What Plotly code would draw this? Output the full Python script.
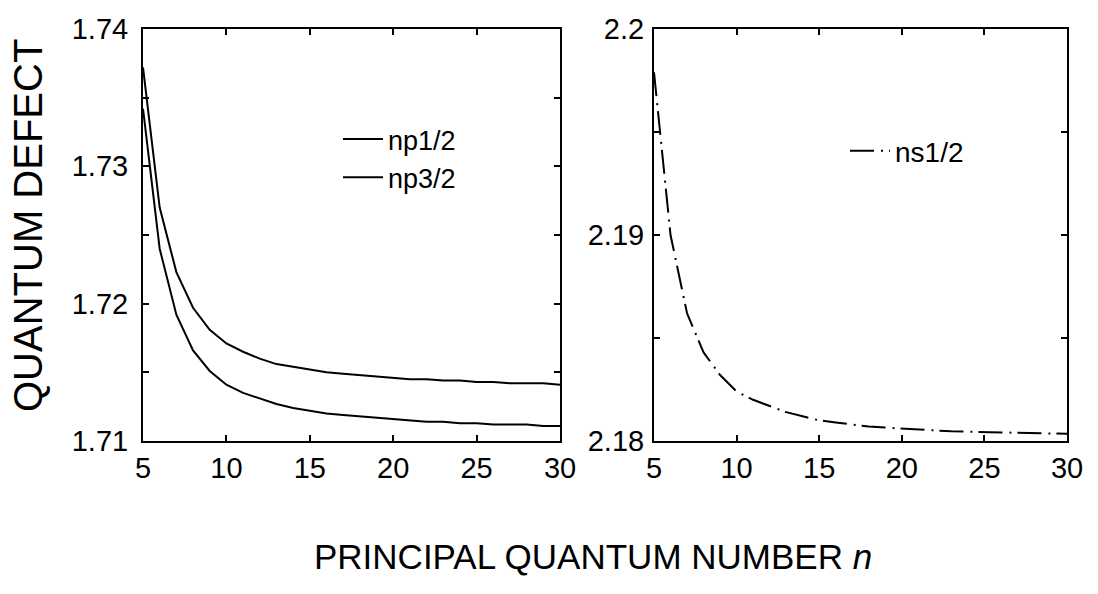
import plotly.graph_objects as go

# Principal quantum number
n = list(range(5, 31))

# Quantum defects
np12 = [1.7372, 1.7270, 1.7223, 1.7197, 1.7181, 1.7171, 1.7165, 1.7160, 1.7156,
        1.7154, 1.7152, 1.7150, 1.7149, 1.7148, 1.7147, 1.7146, 1.7145, 1.7145,
        1.7144, 1.7144, 1.7143, 1.7143, 1.7142, 1.7142, 1.7142, 1.7141]
np32 = [1.7342, 1.7240, 1.7192, 1.7166, 1.7151, 1.7141, 1.7135, 1.7131, 1.7127,
        1.7124, 1.7122, 1.7120, 1.7119, 1.7118, 1.7117, 1.7116, 1.7115, 1.7114,
        1.7114, 1.7113, 1.7113, 1.7112, 1.7112, 1.7112, 1.7111, 1.7111]
ns12 = [2.1979, 2.1900, 2.1862, 2.1843, 2.1832, 2.1824, 2.1820, 2.1817, 2.1814,
        2.1812, 2.1810, 2.1809, 2.1808, 2.1807, 2.18065, 2.1806, 2.18055, 2.1805,
        2.18047, 2.18045, 2.18043, 2.1804, 2.18039, 2.18038, 2.18037, 2.18035]

x_ticks = [5, 10, 15, 20, 25, 30]
x_ticktext = ["5", "10", "15", "20", "25", "30"]
yl_ticks = [1.71, 1.715, 1.72, 1.725, 1.73, 1.735, 1.74]
yl_ticktext = ["1.71", "", "1.72", "", "1.73", "", "1.74"]
yr_ticks = [2.18, 2.185, 2.19, 2.195, 2.2]
yr_ticktext = ["2.18", "", "2.19", "", "2.2"]

FONT = "Liberation Sans, Arial, sans-serif"
W, H = 1098, 594

fig = go.Figure()
fig.add_trace(go.Scatter(x=n, y=np12, mode="lines", name="np1/2",
                         line=dict(color="black", width=2), xaxis="x", yaxis="y"))
fig.add_trace(go.Scatter(x=n, y=np32, mode="lines", name="np3/2",
                         line=dict(color="black", width=2), xaxis="x", yaxis="y"))
fig.add_trace(go.Scatter(x=n, y=ns12, mode="lines", name="ns1/2",
                         line=dict(color="black", width=2, dash="24px,7px,2px,6px"),
                         xaxis="x2", yaxis="y2", legend="legend2"))

axis_common = dict(showline=True, linecolor="black", linewidth=2, mirror="ticks",
                   ticks="inside", ticklen=6, tickwidth=1.5, tickcolor="black",
                   showgrid=False, zeroline=False, automargin=False,
                   tickfont=dict(family=FONT, size=29, color="black"))

fig.update_layout(
    template="none",
    width=W, height=H,
    margin=dict(l=0, r=0, t=0, b=0, autoexpand=False),
    paper_bgcolor="white", plot_bgcolor="white",
    xaxis=dict(domain=[143 / W, 560 / W], range=[5, 30], tickvals=x_ticks,
               ticktext=x_ticktext, anchor="y", ticklabelstandoff=0, **axis_common),
    yaxis=dict(domain=[1 - 441 / H, 1 - 29 / H], range=[1.71, 1.74], tickvals=yl_ticks,
               ticktext=yl_ticktext, anchor="x", ticklabelstandoff=7, **axis_common),
    xaxis2=dict(domain=[654 / W, 1067 / W], range=[5, 30], tickvals=x_ticks,
                ticktext=x_ticktext, anchor="y2", ticklabelstandoff=0, **axis_common),
    yaxis2=dict(domain=[1 - 441 / H, 1 - 29 / H], range=[2.18, 2.2], tickvals=yr_ticks,
                ticktext=yr_ticktext, anchor="x2", ticklabelstandoff=2, **axis_common),
    showlegend=True,
    legend=dict(x=338 / W, y=1 - 115 / H, xanchor="left", yanchor="top",
                bgcolor="rgba(0,0,0,0)", borderwidth=0, itemwidth=40,
                font=dict(family=FONT, size=27, color="black")),
    legend2=dict(x=845 / W, y=1 - 126 / H, xanchor="left", yanchor="top",
                 bgcolor="rgba(0,0,0,0)", borderwidth=0, itemwidth=40,
                 font=dict(family=FONT, size=28, color="black")),
    annotations=[
        dict(text="QUANTUM DEFECT", textangle=-90, xref="paper", yref="paper",
             x=28 / W, y=1 - 226 / H, xanchor="center", yanchor="middle",
             showarrow=False, font=dict(family=FONT, size=40, color="black")),
        dict(text="PRINCIPAL QUANTUM NUMBER <i>n</i>", xref="paper", yref="paper",
             x=593 / W, y=1 - 556 / H, xanchor="center", yanchor="middle",
             showarrow=False, font=dict(family=FONT, size=35, color="black")),
    ],
)

fig.write_html("out.html")
